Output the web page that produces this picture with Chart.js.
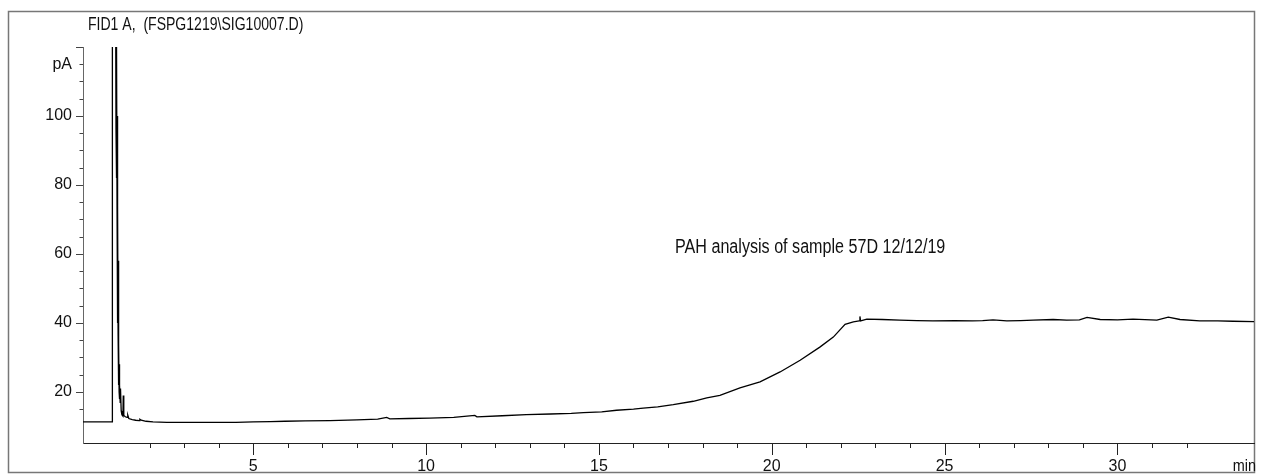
<!DOCTYPE html>
<html>
<head>
<meta charset="utf-8">
<script src="https://cdn.jsdelivr.net/npm/chart.js@4"></script>
<style>
  html, body { margin: 0; padding: 0; background: #fff; }
  #wrap { width: 1268px; height: 474px; position: relative; }
</style>
</head>
<body>
<div id="wrap"><canvas id="fidChart" width="1268" height="474"></canvas></div>
<script>
// Retention time (min) and detector signal (pA)
const retentionTimes = [
  0.075, 0.92, 0.925, 1.02, 1.03, 1.035, 1.04, 1.045, 1.05, 1.055,
  1.06, 1.065, 1.07, 1.075, 1.08, 1.085, 1.09, 1.095, 1.10, 1.105,
  1.11, 1.115, 1.12, 1.125, 1.13, 1.14, 1.15, 1.16, 1.18, 1.20,
  1.23, 1.24, 1.255, 1.30, 1.35, 1.37, 1.40, 1.50, 1.60, 1.70,
  1.72, 1.76, 1.90, 2.10, 2.5, 3.0, 3.5, 4.0, 4.5, 5.0,
  5.5, 5.92, 6.5, 7.22, 8.0, 8.6, 8.86, 8.95, 9.5, 10.1,
  10.8, 11.41, 11.47, 12.2, 12.9, 13.6, 14.2, 14.55, 15.08, 15.51,
  16.0, 16.28, 16.7, 17.15, 17.73, 18.12, 18.5, 19.08, 19.66, 20.24,
  20.82, 21.39, 21.78, 22.12, 22.36, 22.53, 22.55, 22.57, 22.75, 23.2,
  23.7, 24.2, 24.66, 25.3, 25.8, 26.1, 26.4, 26.8, 27.2, 27.56,
  28.14, 28.53, 28.9, 29.12, 29.5, 30.0, 30.45, 31.14, 31.47, 31.81,
  32.38, 32.9, 33.34, 33.95
];
const signalPA = [
  11.3, 11.3, 130, 130, 96, 130, 90, 125, 82, 120,
  73, 100, 48, 82, 40, 74, 37, 58, 30, 37,
  22, 34, 20, 28, 18, 22, 17, 21, 14.5, 13.4,
  13.0, 19, 13.2, 12.8, 12.6, 13.3, 12.3, 12.0, 11.8, 11.7,
  12.1, 11.8, 11.5, 11.3, 11.2, 11.2, 11.2, 11.2, 11.2, 11.3,
  11.4, 11.5, 11.6, 11.7, 11.9, 12.1, 12.6, 12.2, 12.3, 12.4,
  12.6, 13.2, 12.8, 13.1, 13.4, 13.6, 13.8, 14.0, 14.2, 14.7,
  15.0, 15.3, 15.7, 16.3, 17.3, 18.3, 19.0, 21.2, 22.9, 25.8,
  29.2, 33.0, 35.9, 39.6, 40.3, 40.6, 41.9, 40.6, 41.1, 41.0,
  40.8, 40.7, 40.6, 40.7, 40.6, 40.7, 40.9, 40.6, 40.7, 40.8,
  41.0, 40.8, 40.9, 41.6, 41.0, 40.9, 41.1, 40.8, 41.7, 41.0,
  40.6, 40.6, 40.5, 40.4
];

// Axis settings
const timeMin = 0.075, timeMax = 33.95;
const pAMin = 5.2, pAMax = 120;
const timeLabels = [5, 10, 15, 20, 25, 30];
const pALabels = [20, 40, 60, 80, 100];

const signalTitle = 'FID1 A,  (FSPG1219\\SIG10007.D)';
const noteText = 'PAH analysis of sample 57D 12/12/19';

const FONT = "'Liberation Sans', Arial, sans-serif";

const isWhole = v => Math.abs(v - Math.round(v)) < 1e-6;

// condensed text, the original uses a narrow face
function narrowText(ctx, text, x, y, size, squeeze, align) {
  ctx.save();
  ctx.font = size + 'px ' + FONT;
  ctx.textAlign = align || 'left';
  ctx.textBaseline = 'middle';
  ctx.translate(x, y);
  ctx.scale(squeeze, 1);
  ctx.fillText(text, 0, 0);
  ctx.restore();
}

// Frame, tick marks and free text in the ChemStation style
const chromDecor = {
  id: 'chromDecor',
  beforeDraw(chart) {
    const { ctx } = chart;
    ctx.save();
    ctx.fillStyle = '#fff';
    ctx.fillRect(0, 0, chart.width, chart.height);
    ctx.strokeStyle = '#777';
    ctx.lineWidth = 1.5;
    ctx.strokeRect(8.5, 11.5, 1246, 461);
    ctx.restore();
  },
  afterDraw(chart) {
    const { ctx, scales: { x, y } } = chart;
    ctx.save();
    ctx.lineWidth = 1;
    ctx.strokeStyle = '#222';
    x.ticks.forEach(t => {
      if (!isWhole(t.value)) return;
      const px = Math.round(x.getPixelForValue(t.value)) + 0.5;
      const len = Math.round(t.value) % 5 === 0 ? 12 : 5;
      ctx.beginPath();
      ctx.moveTo(px, x.top);
      ctx.lineTo(px, x.top + len);
      ctx.stroke();
    });
    ctx.strokeStyle = '#444';
    y.ticks.forEach(t => {
      if (!isWhole(t.value)) return;
      const py = Math.round(y.getPixelForValue(t.value)) + 0.5;
      const len = Math.round(t.value) % 20 === 0 ? 7 : 3.5;
      ctx.beginPath();
      ctx.moveTo(y.right, py);
      ctx.lineTo(y.right - len, py);
      ctx.stroke();
    });
    ctx.restore();

    ctx.fillStyle = '#111';
    narrowText(ctx, signalTitle, 88, 25, 18, 0.78);
    narrowText(ctx, 'min', 1256, 466, 17, 0.85, 'right');
    narrowText(ctx, noteText, 675, 247, 20, 0.806);
  }
};

const points = retentionTimes.map((t, i) => ({ x: t, y: signalPA[i] }));

new Chart(document.getElementById('fidChart'), {
  type: 'line',
  data: {
    datasets: [{
      data: points,
      borderColor: '#000',
      borderWidth: 1.3,
      pointRadius: 0,
      tension: 0,
      fill: false
    }]
  },
  options: {
    responsive: false,
    animation: false,
    events: [],
    layout: { autoPadding: false, padding: { left: 0, top: 47, right: 14, bottom: 0 } },
    plugins: { legend: { display: false }, tooltip: { enabled: false } },
    scales: {
      x: {
        type: 'linear',
        min: timeMin,
        max: timeMax,
        afterFit: s => { s.height = 31; },
        grid: { display: false, drawTicks: false },
        border: { display: true, color: '#222', width: 1 },
        ticks: {
          stepSize: 1,
          autoSkip: false,
          maxRotation: 0,
          padding: 14,
          color: '#111',
          font: { family: FONT, size: 16 },
          callback: v => (isWhole(v) && timeLabels.includes(Math.round(v)) ? String(Math.round(v)) : '')
        }
      },
      y: {
        type: 'linear',
        min: pAMin,
        max: pAMax,
        afterFit: s => { s.width = 83; },
        grid: { display: false, drawTicks: false },
        border: { display: true, color: '#666', width: 1 },
        ticks: {
          stepSize: 5,
          autoSkip: false,
          padding: 11,
          color: '#111',
          font: { family: FONT, size: 16 },
          callback: v => {
            if (!isWhole(v)) return '';
            const r = Math.round(v);
            if (r === 115) return 'pA';
            return pALabels.includes(r) ? String(r) : '';
          }
        }
      }
    }
  },
  plugins: [chromDecor]
});
</script>
</body>
</html>
